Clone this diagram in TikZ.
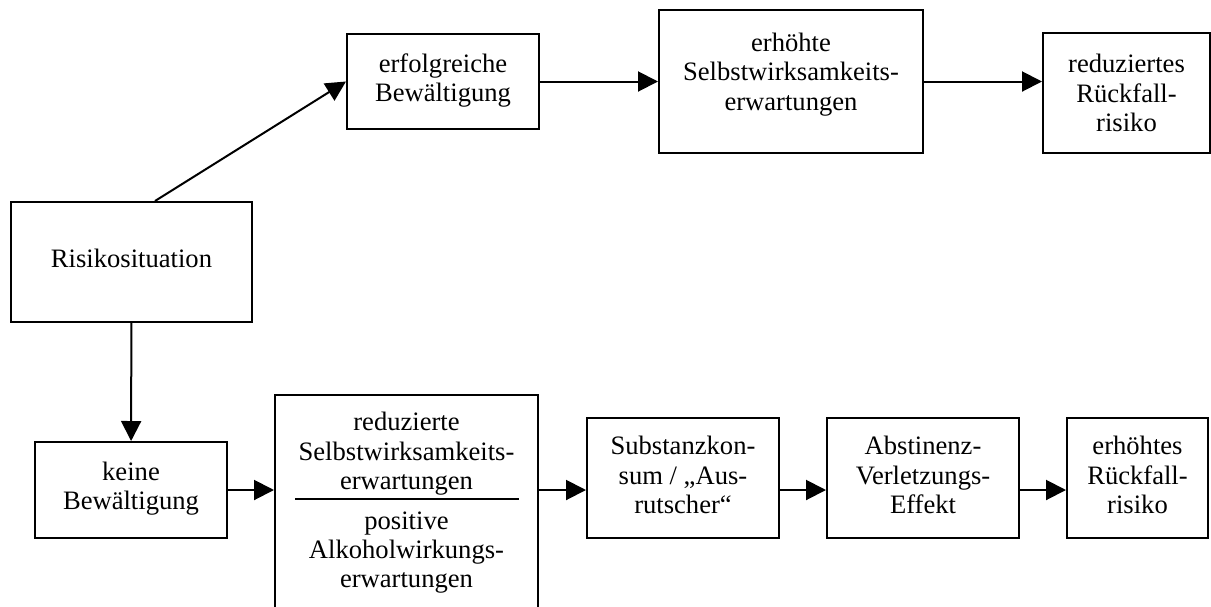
\documentclass[tikz,border=0pt]{standalone}
\usepackage{fontspec}
\setmainfont{Liberation Serif}
\usetikzlibrary{positioning,arrows.meta}
\begin{document}
\begin{tikzpicture}[x=0.5pt, y=-0.5pt, node distance=23pt,
  box/.style={draw, line width=1pt, align=center, inner sep=2pt, font=\fontsize{13.3}{14.7}\selectfont},
  arr/.style={-{Triangle[length=10pt,width=10pt]}, line width=1pt}]
\useasboundingbox (0,0) rectangle (1211,606);
\clip (0,0) rectangle (1211,606);

\node (risiko) [box, minimum width=120.5pt, minimum height=60pt] at (131.5,262) {Risikosituation\rule[-4pt]{0pt}{0pt}};
\node (erfolg) [box, minimum width=96pt, minimum height=47.5pt] at (443,81.5) {erfolgreiche\\Bewältigung\rule[-4pt]{0pt}{0pt}};
\node (erhoeht) [box, minimum width=132pt, minimum height=71.5pt] at (791,81.5) {erhöhte\\Selbstwirksamkeits-\\erwartungen\rule[-10pt]{0pt}{0pt}};
\node (redrisk) [box, minimum width=83.5pt, minimum height=60pt] at (1126.5,93) {reduziertes\\Rückfall-\\risiko};

\node (keine) [box, minimum width=96pt, minimum height=48pt] at (131,490) {keine\\Bewältigung\rule[-4pt]{0pt}{0pt}};
\node (reduz) [box, anchor=north, minimum width=131.5pt, minimum height=108pt] at (406.5,394) {reduzierte\\Selbstwirksamkeits-\\erwartungen\\[5pt]positive\\Alkoholwirkungs-\\erwartungen};
\node (subst) [box, minimum width=96pt, minimum height=60pt] at (683,478) {Substanzkon-\\sum / „Aus-\\rutscher“\rule[-3pt]{0pt}{0pt}};
\node (abst) [box, minimum width=96pt, minimum height=60pt, right=of subst] {Abstinenz-\\Verletzungs-\\Effekt\rule[-3pt]{0pt}{0pt}};
\node (erhrisk) [box, minimum width=70.5pt, minimum height=60pt, right=of abst] {erhöhtes\\Rückfall-\\risiko\rule[-3pt]{0pt}{0pt}};

\draw[line width=1pt] (295,499) -- (519,499);

\draw[arr] ([xshift=11.75pt]risiko.north) -- (erfolg.west);
\draw[arr] (erfolg) -- (erhoeht);
\draw[arr] (erhoeht.east) -- (erhoeht.east -| redrisk.west);
\draw[arr] (risiko) -- (keine);
\draw[arr] (keine) -- (keine -| reduz.west);
\draw[arr] (reduz.east |- keine) -- (subst.west |- keine);
\draw[arr] (subst.east |- keine) -- (abst.west |- keine);
\draw[arr] (abst.east |- keine) -- (erhrisk.west |- keine);
\end{tikzpicture}
\end{document}
